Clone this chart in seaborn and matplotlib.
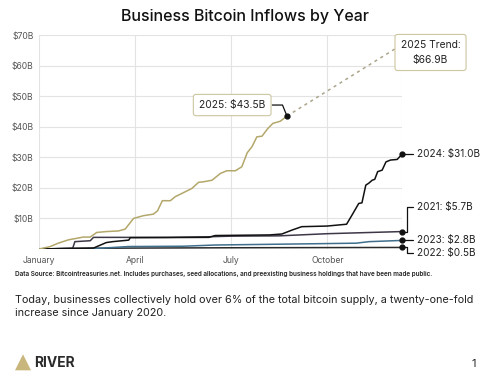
import pandas as pd
import numpy as np
import matplotlib
matplotlib.use("Agg")
import matplotlib.pyplot as plt
from matplotlib.patches import Polygon
import seaborn as sns

# months since Jan 1 (x) and cumulative inflows in $B (y)
m_2025 = [0, 0.34, 0.6, 0.92, 1.18, 1.38, 1.6, 1.8, 2.1, 2.48, 2.69, 2.95, 3.26, 3.57, 3.7, 3.85,
          4.1, 4.25, 4.56, 4.77, 4.98, 5.14, 5.4, 5.66, 5.86, 6.13, 6.33, 6.5, 6.65, 6.8, 6.96,
          7.14, 7.3, 7.53, 7.74]
v_2025 = [0, 0.75, 1.9, 3.0, 3.5, 3.9, 3.9, 5.4, 5.7, 5.9, 6.5, 10.0, 10.9, 11.4, 12.5, 15.8,
          15.8, 17.1, 18.7, 19.8, 21.8, 22.0, 22.5, 24.7, 25.6, 25.6, 26.9, 31.5, 33.5, 36.7, 36.9,
          39.4, 41.1, 41.8, 43.5]

m_2024 = [0, 1.7, 2.1, 2.3, 2.8, 2.85, 5.3, 5.5, 7.2, 7.58, 7.9, 8.2, 8.99, 9.6, 9.77, 9.98,
          10.08, 10.2, 10.29, 10.4, 10.48, 10.57, 10.71, 10.83, 10.97, 11.18, 11.33]
v_2024 = [0, 0.3, 2.1, 2.4, 2.9, 3.7, 3.8, 4.4, 4.6, 4.9, 6.2, 7.3, 7.5, 8.1, 11.1, 14.9,
          15.1, 20.9, 21.5, 22.5, 22.8, 25.3, 25.8, 28.5, 29.1, 29.3, 31.0]

m_2021 = [0, 1.05, 1.12, 1.6, 1.7, 4.0, 5.3, 6.0, 7.5, 9.0, 11.33]
v_2021 = [0, 0.2, 2.4, 2.7, 3.8, 3.8, 4.0, 4.2, 4.3, 5.0, 5.7]

m_2023 = [0, 1.5, 2.0, 2.8, 4.5, 5.5, 7.0, 8.5, 9.9, 10.3, 11.33]
v_2023 = [0, 0.1, 0.3, 0.8, 0.9, 1.3, 1.5, 1.7, 1.9, 2.4, 2.8]

m_2022 = [0, 1.0, 3.0, 6.0, 11.33]
v_2022 = [0, 0.2, 0.3, 0.4, 0.5]

trend_x = [7.74, 11.33]
trend_y = [43.5, 66.9]

years = ["2025", "2024", "2021", "2023", "2022"]
colors = {"2025": "#b3a76b", "2024": "#111111", "2021": "#3e3748",
          "2023": "#3f6f8c", "2022": "#2b2b2b"}
end_labels = {"2024": "2024: $31.0B", "2021": "2021: $5.7B",
              "2023": "2023: $2.8B", "2022": "2022: $0.5B"}
month_ticks = [0, 3, 6, 9]
month_names = ["January", "April", "July", "October"]
y_ticks = [10, 20, 30, 40, 50, 60, 70]

frames = []
for yr, mx, vy in [("2025", m_2025, v_2025), ("2024", m_2024, v_2024), ("2021", m_2021, v_2021),
                   ("2023", m_2023, v_2023), ("2022", m_2022, v_2022)]:
    frames.append(pd.DataFrame({"month": mx, "value": vy, "year": yr}))
df = pd.concat(frames, ignore_index=True)

sns.set_style("white")
plt.rcParams["font.family"] = ["Inter", "DejaVu Sans"]

fig = plt.figure(figsize=(5, 3.81), dpi=100)
ax = fig.add_axes([0.078, 0.3465, 0.726, 0.5615])

for y in y_ticks:
    ax.axhline(y, color="#e3e3e3", lw=0.8, zorder=0)
for x in month_ticks + [11.33]:
    ax.axvline(x, color="#e3e3e3", lw=0.8, zorder=0)

# trend line
ax.plot(trend_x, trend_y, color="#aaa58a", lw=1.1, ls=(0, (2, 2.5)), zorder=1, clip_on=False)

sns.lineplot(data=df, x="month", y="value", hue="year", hue_order=years[::-1],
             palette=colors, lw=1.1, ax=ax, legend=False, sort=False, estimator=None)

ax.set_xlim(0, 11.33)
ax.set_ylim(0, 70)
ax.set_xticks(month_ticks)
ax.set_xticklabels(month_names)
ax.set_yticks(y_ticks)
ax.set_yticklabels([f"${t}B" for t in y_ticks])
ax.tick_params(axis="both", length=0, labelsize=6.2, labelcolor="#555555")
ax.tick_params(axis="x", pad=5)
ax.tick_params(axis="y", pad=4)
ax.set_xlabel("")
ax.set_ylabel("")
for s in ax.spines.values():
    s.set_visible(False)

# end dots
ends = {"2025": (7.74, 43.5), "2024": (11.33, 31.0), "2021": (11.33, 5.7),
        "2023": (11.33, 2.8), "2022": (11.33, 0.5)}
for yr, (ex, ey) in ends.items():
    ax.plot(ex, ey, "o", color="#111111", ms=3.5, zorder=5, clip_on=False)

# right-side labels with connectors
lab_y = {"2024": 31.0, "2021": 13.7, "2023": 2.8, "2022": -1.4}
for yr in ["2024", "2021", "2023", "2022"]:
    ey = ends[yr][1]
    ly = lab_y[yr]
    if abs(ly - ey) < 0.5:
        px, py = [11.33, 11.66], [ey, ey]
    else:
        px, py = [11.33, 11.5, 11.5, 11.66], [ey, ey, ly, ly]
    ax.plot(px, py, color="#111111", lw=0.9, clip_on=False)
    ax.text(11.8, ly, end_labels[yr], fontsize=7.2, color="#222222", va="center", ha="left",
            clip_on=False)

box = dict(boxstyle="round,pad=0.55,rounding_size=0.25", fc="white", ec="#cdc6a0", lw=0.8)

# 2025 label
ax.plot([7.28, 7.6, 7.74], [47.1, 47.1, 43.5], color="#111111", lw=0.9, zorder=4)
ax.text(6.03, 47.1, "2025: $43.5B", fontsize=7.4, color="#222222", ha="center", va="center",
        bbox=box, zorder=6)

# trend label
ax.text(12.22, 64.3, "2025 Trend:\n$66.9B", fontsize=7.4, color="#222222", ha="center",
        va="center", linespacing=1.6, bbox=box, zorder=6, clip_on=False)

fig.text(0.49, 0.958, "Business Bitcoin Inflows by Year", fontsize=11.5, ha="center",
         va="center", color="#111111", fontweight="medium")

fig.text(0.03, 0.281, "Data Source: Bitcointreasuries.net. Includes purchases, seed allocations, "
         "and preexisting business holdings that have been made public.",
         fontsize=4.6, ha="left", va="center", color="#222222", fontweight="semibold")

fig.text(0.03, 0.196, "Today, businesses collectively hold over 6% of the total bitcoin supply, "
         "a twenty-one-fold\nincrease since January 2020.",
         fontsize=7.8, ha="left", va="center", color="#222222", linespacing=1.35)

# RIVER logo
tri = Polygon([[0.03, 0.028], [0.062, 0.028], [0.046, 0.07]], closed=True,
              transform=fig.transFigure, fc="#c9b67c", ec="none")
fig.patches.append(tri)
fig.text(0.068, 0.047, "RIVER", fontsize=10, fontweight="bold", ha="left", va="center",
         color="#2a2a2a")
fig.text(0.948, 0.045, "1", fontsize=8, ha="center", va="center", color="#222222")

fig.savefig("out.png", dpi=100, facecolor="white")
